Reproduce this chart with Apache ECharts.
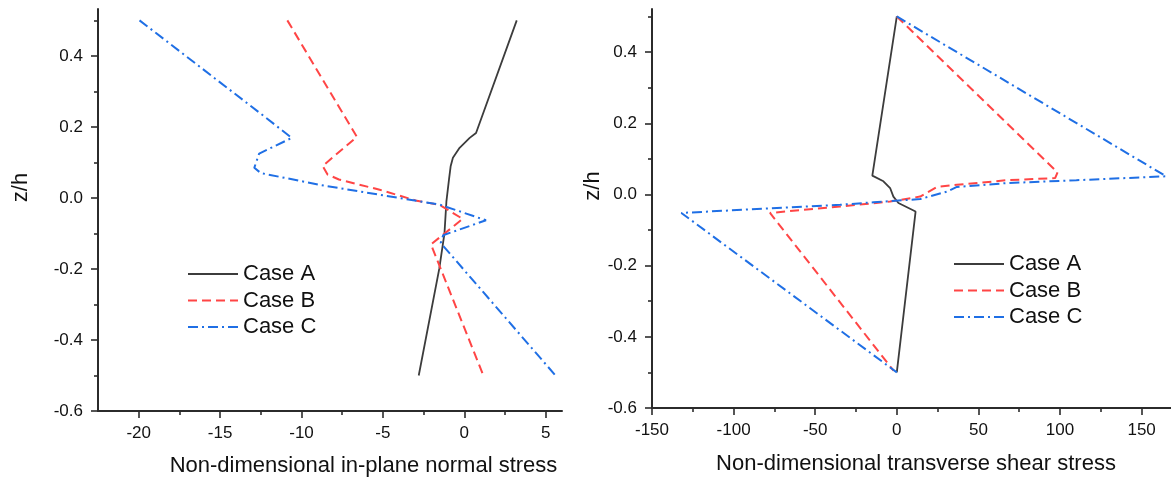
<!DOCTYPE html>
<html>
<head>
<meta charset="utf-8">
<script src="https://cdn.jsdelivr.net/npm/echarts@6/dist/echarts.min.js"></script>
<style>
  html, body { margin: 0; padding: 0; background: #fff; }
  #chart { width: 1171px; height: 482px; }
</style>
</head>
<body>
<div id="chart"></div>
<script>
// left panel: in-plane normal stress vs z/h
const normalA_s = [3.22, 0.72, 0.33, -0.29, -0.7, -0.84, -0.94, -1.1, -1.22, -1.54, -2.8];
const normalA_z = [0.5, 0.183, 0.169, 0.141, 0.113, 0.089, 0.052, -0.01, -0.1, -0.2, -0.5];
const normalB_s = [-10.87, -6.6, -8.7, -8.4, -7.7, -5.2, -3.0, -1.5, -0.1, -2.05, 1.17];
const normalB_z = [0.5, 0.172, 0.09, 0.066, 0.052, 0.023, -0.007, -0.02, -0.059, -0.131, -0.5];
const normalC_s = [-19.95, -12.3, -10.6, -12.6, -12.9, -12.5, -8.9, -5.2, -1.5, 1.33, -1.3, -1.45, 5.6];
const normalC_z = [0.5, 0.23, 0.169, 0.125, 0.085, 0.07, 0.037, 0.009, -0.019, -0.063, -0.105, -0.127, -0.5];

// right panel: transverse shear stress vs z/h
const shearA_s = [0, -15, -8.2, -4.1, -2.1, 1, 11.5, 0];
const shearA_z = [0.5, 0.053, 0.037, 0.018, -0.006, -0.024, -0.048, -0.5];
const shearB_s = [0, 98.5, 97, 67.5, 36.8, 24.5, 14.3, -4.1, -34.8, -77.7, -2];
const shearB_z = [0.5, 0.062, 0.046, 0.04, 0.027, 0.021, -0.006, -0.02, -0.034, -0.052, -0.495];
const shearC_s = [0, 165, 110, 67.5, 36.8, 30.7, 14.3, -14.3, -34.8, -132, 0];
const shearC_z = [0.5, 0.051, 0.04, 0.032, 0.021, 0.008, -0.013, -0.022, -0.029, -0.052, -0.5];

const caseNames = ['Case A', 'Case B', 'Case C'];
const normalTicks = [-20, -15, -10, -5, 0, 5];
const normalMinor = [-17.5, -12.5, -7.5, -2.5, 2.5];
const shearTicks = [-150, -100, -50, 0, 50, 100, 150];
const shearMinor = [-125, -75, -25, 25, 75, 125];
const zTicks = [-0.6, -0.4, -0.2, 0, 0.2, 0.4];
const zMinor = [-0.5, -0.3, -0.1, 0.1, 0.3, 0.5];

const FONT = '"Liberation Sans", Arial, sans-serif';
const AXIS_COLOR = '#2b2b2b';
const TEXT_COLOR = '#111';
const caseColors = ['#3c3c3c', '#ff4545', '#1f6fe5'];
const caseWidth = [1.8, 2, 2];
const caseDash = ['solid', [9, 5], [10, 4, 2, 4]];

const zip = (xs, ys) => xs.map((x, i) => [x, ys[i]]);

function mainAxis(opts) {
  return {
    type: 'value',
    gridIndex: opts.grid,
    position: opts.position,
    min: opts.min,
    max: opts.max,
    name: opts.name,
    nameLocation: 'middle',
    nameGap: opts.nameGap,
    nameRotate: opts.nameRotate,
    nameTextStyle: { fontFamily: FONT, fontSize: 22, color: TEXT_COLOR, padding: opts.namePadding },
    axisLine: { show: true, onZero: false, lineStyle: { color: AXIS_COLOR, width: 2 } },
    axisTick: { show: true, inside: false, length: 7, customValues: opts.ticks, lineStyle: { color: AXIS_COLOR, width: 1.6 } },
    axisLabel: {
      show: true, customValues: opts.ticks, margin: opts.labelMargin,
      fontFamily: FONT, fontSize: 17, color: TEXT_COLOR,
      formatter: opts.fmt
    },
    splitLine: { show: false }
  };
}

function minorAxis(grid, position, min, max, ticks) {
  return {
    type: 'value',
    gridIndex: grid,
    position: position,
    min: min,
    max: max,
    axisLine: { show: false, onZero: false },
    axisTick: { show: true, inside: false, length: 4, customValues: ticks, lineStyle: { color: AXIS_COLOR, width: 1.6 } },
    axisLabel: { show: false },
    splitLine: { show: false }
  };
}

const zFmt = v => v.toFixed(1);
const intFmt = v => String(Math.round(v));

function lineSeries(idx, data, xi, yi) {
  return {
    type: 'line',
    name: caseNames[idx],
    xAxisIndex: xi,
    yAxisIndex: yi,
    data: data,
    symbol: 'none',
    smooth: false,
    clip: false,
    lineStyle: { color: caseColors[idx], width: caseWidth[idx], type: caseDash[idx] },
    itemStyle: { color: caseColors[idx] }
  };
}

function legendAt(left, top) {
  return {
    orient: 'vertical',
    left: left,
    top: top,
    padding: 0,
    data: caseNames,
    itemWidth: 50,
    itemHeight: 14,
    itemGap: 4.5,
    selectedMode: false,
    itemStyle: { opacity: 0 },
    textStyle: { fontFamily: FONT, fontSize: 22, color: TEXT_COLOR, lineHeight: 22 }
  };
}

const chart = echarts.init(document.getElementById('chart'));
chart.setOption({
  animation: false,
  backgroundColor: '#fff',
  grid: [
    { left: 98, right: 609, top: 9, bottom: 71 },
    { left: 652, right: 0, top: 9, bottom: 74 }
  ],
  legend: [legendAt(187, 263), legendAt(953, 253)],
  xAxis: [
    mainAxis({ grid: 0, position: 'bottom', min: -22.5, max: 6, ticks: normalTicks,
      name: 'Non-dimensional in-plane normal stress', nameGap: 44, namePadding: [0, 0, 0, 67],
      labelMargin: 14, fmt: intFmt }),
    minorAxis(0, 'bottom', -22.5, 6, normalMinor),
    mainAxis({ grid: 1, position: 'bottom', min: -150, max: 168, ticks: shearTicks,
      name: 'Non-dimensional transverse shear stress', nameGap: 45, namePadding: [0, 0, 0, 9],
      labelMargin: 14, fmt: intFmt }),
    minorAxis(1, 'bottom', -150, 168, shearMinor)
  ],
  yAxis: [
    mainAxis({ grid: 0, position: 'left', min: -0.6, max: 0.532, ticks: zTicks,
      name: 'z/h', nameGap: 66, nameRotate: 90, namePadding: [0, 0, 0, 45],
      labelMargin: 15, fmt: zFmt }),
    minorAxis(0, 'left', -0.6, 0.532, zMinor),
    mainAxis({ grid: 1, position: 'left', min: -0.6, max: 0.521, ticks: zTicks,
      name: 'z/h', nameGap: 43, nameRotate: 90, namePadding: [0, 0, 0, 45],
      labelMargin: 15, fmt: zFmt }),
    minorAxis(1, 'left', -0.6, 0.521, zMinor)
  ],
  series: [
    lineSeries(0, zip(normalA_s, normalA_z), 0, 0),
    lineSeries(1, zip(normalB_s, normalB_z), 0, 0),
    lineSeries(2, zip(normalC_s, normalC_z), 0, 0),
    lineSeries(0, zip(shearA_s, shearA_z), 2, 2),
    lineSeries(1, zip(shearB_s, shearB_z), 2, 2),
    lineSeries(2, zip(shearC_s, shearC_z), 2, 2)
  ]
});
</script>
</body>
</html>
